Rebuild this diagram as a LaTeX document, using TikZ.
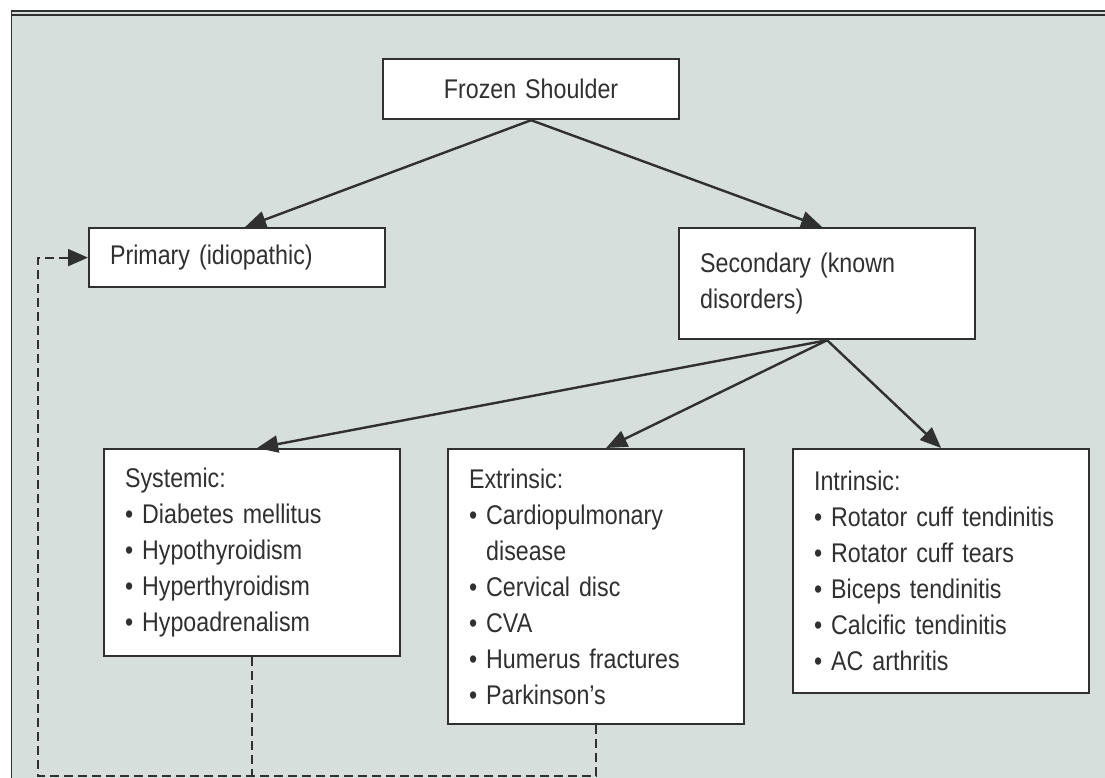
\documentclass[tikz,border=0pt]{standalone}
\usepackage{fontspec}
\setmainfont{Liberation Sans}[FakeStretch=0.86]
\usetikzlibrary{arrows.meta}
\definecolor{panel}{RGB}{214,223,219}
\definecolor{ink}{RGB}{48,48,48}
\newcommand{\bul}{\textbullet\ }

\begin{document}
\begin{tikzpicture}[x=1pt,y=-1pt,
    box/.style={draw=ink, line width=2.2pt, fill=white, text=ink, minimum width=296pt,
      inner xsep=21pt, text width=254pt, align=left, anchor=north west,
      font=\fontsize{27}{36}\selectfont},
    link/.style={draw=ink, line width=2.4pt, -{Triangle[length=21pt,width=17pt]}},
    back/.style={draw=ink, line width=1.8pt, dash pattern=on 9pt off 5pt}]
       \useasboundingbox (0,0) rectangle (1105,778);
       \fill[white] (0,0) rectangle (1105,778);
       \fill[panel] (11,12) rectangle (1105,778);
       \draw[ink, line width=1.5pt] (11,10.8) -- (1105,10.8);
       \draw[ink, line width=1.5pt] (11,14.8) -- (1105,14.8);
       \draw[ink, line width=1.5pt] (11.6,10) -- (11.6,778);

       \node(FS)[box, align=center, minimum height=60pt] at (382,58) {Frozen Shoulder};

       \node(P)[box, minimum height=59pt] at (88,227) {Primary (idiopathic)};
       \node(S)[box, minimum height=111pt] at (678,227) {Secondary (known\\disorders)};

       \draw[link] (FS.south) -- ([xshift=8pt]P.north);
       \draw[link] (FS.south) -- ([xshift=-5pt]S.north);

       \node(SY)[box, minimum height=207pt] at (103,448) {Systemic:\\
         \bul Diabetes mellitus\\
         \bul Hypothyroidism\\
         \bul Hyperthyroidism\\
         \bul Hypoadrenalism};
       \node(EX)[box, minimum height=275pt] at (447,448) {Extrinsic:\\
         \bul Cardiopulmonary\\
         \phantom{\bul}disease\\
         \bul Cervical disc\\
         \bul CVA\\
         \bul Humerus fractures\\
         \bul Parkinson's};
       \node(IN)[box, minimum height=244pt] at (792,448) {Intrinsic:\\
         \bul Rotator cuff tendinitis\\
         \bul Rotator cuff tears\\
         \bul Biceps tendinitis\\
         \bul Calcific tendinitis\\
         \bul AC arthritis};

       \draw[link] (S.south) -- ([xshift=5pt]SY.north);
       \draw[link] (S.south) -- ([xshift=10pt]EX.north);
       \draw[link] (S.south) -- (IN.north);

       \coordinate(BL) at (38,776);
       \draw[back] (SY.south) -- (SY.south |- BL);
       \draw[back, -{Triangle[length=20pt,width=17pt]}] (EX.south) |- (BL) |- (P.west);
\end{tikzpicture}
\end{document}
